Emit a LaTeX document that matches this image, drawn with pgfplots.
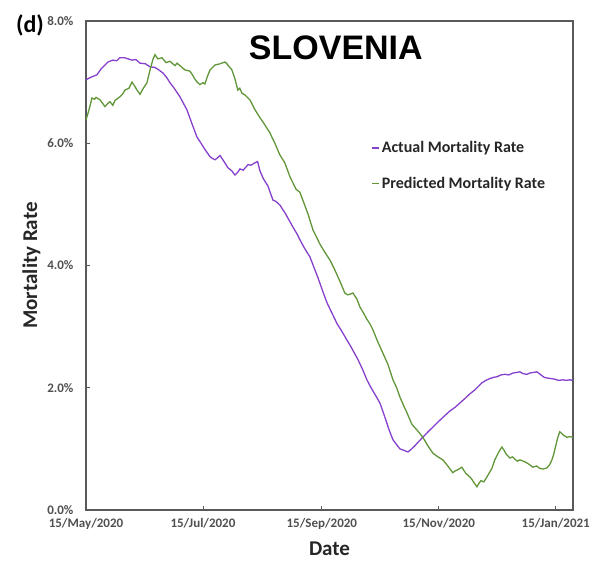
\documentclass[border=0pt]{standalone}
\usepackage{fontspec}
\setmainfont{Carlito}
\newfontfamily\arialfont{Liberation Sans}
\usepackage{pgfplots}
\pgfplotsset{compat=1.18}
\definecolor{actual}{RGB}{134,64,204}
\definecolor{predicted}{RGB}{96,150,56}
\definecolor{axisgrey}{RGB}{89,89,89}
\definecolor{labelgrey}{RGB}{80,80,80}
\definecolor{textdark}{RGB}{38,38,38}

\begin{document}
\begin{tikzpicture}
\begin{axis}[
    width=487pt, height=489pt, scale only axis,
    xmin=0, xmax=254, ymin=0, ymax=8,
    xtick={0,61,123,184,245},
    xticklabels={15/May/2020,15/Jul/2020,15/Sep/2020,15/Nov/2020,15/Jan/2021},
    ytick={0,2,4,6,8},
    yticklabels={0.0\%,2.0\%,4.0\%,6.0\%,8.0\%},
    axis line style={draw=axisgrey, line width=1.4pt},
    tick align=inside, xtick pos=left, ytick pos=left,
    major tick length=4pt,
    tick style={draw=axisgrey, line width=0.8pt},
    ticklabel style={font=\fontsize{13}{15}\selectfont\bfseries, text=labelgrey},
    yticklabel style={xshift=-9pt},
    xticklabel style={yshift=-5pt},
    xlabel={Date}, ylabel={Mortality Rate},
    label style={font=\fontsize{21}{24}\selectfont\bfseries, text=textdark},
    xlabel style={yshift=-5pt},
    legend style={draw=none, fill=none, at={(rel axis cs:0.58,0.762)}, anchor=north west,
        font=\fontsize{16}{18}\selectfont\bfseries, text=textdark, row sep=19pt},
    legend cell align=left,
    legend image code/.code={\draw[#1, line width=1.2pt] (0pt,0pt) -- (7pt,0pt);},
]
\coordinate (sw) at (rel axis cs:0,0);
\addplot[actual, line width=1.3pt] coordinates {
(0,7.04) (2.6,7.08) (5.7,7.12) (8,7.22) (11.5,7.33) (14,7.36) (16,7.35) (17.7,7.40)
(20,7.40) (22,7.38) (24,7.36) (26,7.37) (28.2,7.31) (31,7.30) (33.4,7.25) (36,7.24)
(38,7.20) (40.1,7.15) (42,7.08) (43.8,6.99) (46,6.90) (49,6.76) (52.6,6.55) (55.5,6.30)
(57.9,6.10) (60,6.00) (62,5.90) (64.7,5.78) (66,5.75) (67.3,5.73) (68.5,5.76) (69.9,5.80)
(72,5.70) (74,5.60) (76,5.55) (77.7,5.48) (79,5.52) (80.3,5.58) (82,5.56) (84.5,5.65)
(86,5.64) (88.1,5.68) (89.5,5.70) (90.7,5.55) (92.5,5.42) (94.9,5.30) (97.5,5.07)
(99,5.05) (101.1,4.99) (104,4.85) (107.9,4.63) (110,4.52) (111.6,4.42) (114,4.28)
(116.8,4.14) (119,3.96) (121,3.80) (123,3.62) (125.7,3.39) (128,3.24) (130.9,3.05)
(133.5,2.92) (136.1,2.78) (138,2.68) (140.3,2.55) (142,2.45) (144.4,2.29) (146.5,2.13)
(148,2.04) (149.6,1.95) (151.5,1.85) (153.3,1.75) (155,1.60) (156.4,1.47) (158.2,1.30)
(160.1,1.15) (162,1.07) (163.7,1.00) (165.5,0.98) (167.9,0.95) (169.5,0.99) (171.5,1.05)
(173.5,1.12) (175.7,1.19) (177.5,1.25) (179.4,1.31) (182,1.39) (184.6,1.47) (187,1.54)
(189.8,1.62) (192.5,1.68) (195,1.75) (197.5,1.82) (200.2,1.90) (203,1.97) (206.5,2.08)
(208.5,2.12) (210.6,2.15) (212.5,2.17) (214.3,2.18) (216.5,2.21) (218.5,2.22)
(220.5,2.21) (222.6,2.24) (224.5,2.25) (226.3,2.26) (228,2.23) (229.9,2.22) (231.5,2.24)
(233.1,2.25) (235.1,2.26) (236.5,2.23) (237.7,2.20) (239,2.17) (240.4,2.16) (242.5,2.15)
(244.5,2.14) (246.5,2.12) (248.7,2.13) (250.5,2.12) (252.3,2.13) (253.9,2.12)
};
\addlegendentry{Actual Mortality Rate}
\addplot[predicted, line width=1.3pt] coordinates {
(0,6.38) (1.6,6.55) (3.1,6.74) (4.5,6.72) (5.2,6.75) (7.3,6.71) (9.9,6.60) (11,6.64)
(12.5,6.68) (14,6.62) (15.1,6.70) (17.7,6.76) (19,6.80) (20.3,6.87) (22.4,6.90)
(24,7.00) (25.3,6.94) (26.6,6.87) (28.2,6.80) (29.5,6.88) (31.8,6.99) (33.4,7.20)
(35,7.38) (36,7.45) (37.5,7.38) (39.6,7.40) (41.7,7.32) (43.8,7.34) (46.4,7.27)
(47.5,7.31) (49,7.27) (51.6,7.20) (54.2,7.18) (55.5,7.12) (56.8,7.05) (58,7.00)
(59.4,6.96) (61,6.99) (62,6.97) (63.4,7.10) (64.7,7.20) (67.3,7.28) (69.9,7.30)
(72.5,7.33) (73.5,7.30) (74.5,7.26) (76.1,7.20) (77.7,7.05) (79.2,6.87) (80.2,6.90)
(81.3,6.82) (82.9,6.79) (85.5,6.71) (88.1,6.55) (90.7,6.42) (93.3,6.30) (95.9,6.17)
(98.5,6.00) (101.1,5.81) (103.7,5.68) (106.4,5.45) (109.5,5.25) (111.5,5.20)
(113.1,5.07) (115.7,4.85) (118.4,4.58) (120,4.48) (122,4.35) (124.5,4.22) (127.2,4.09)
(129,3.98) (130.9,3.85) (133,3.70) (135,3.55) (136.5,3.52) (137.6,3.53) (139.2,3.55)
(141.3,3.45) (142.9,3.32) (144.8,3.22) (146.5,3.12) (148,3.05) (149.6,2.95) (152.2,2.75)
(154.8,2.57) (157.5,2.38) (160.1,2.13) (162,2.00) (163.7,1.85) (165.5,1.72) (167.4,1.59)
(170,1.40) (172.6,1.31) (175.7,1.19) (178.3,1.05) (180.9,0.93) (183.5,0.87) (186.1,0.82)
(188.7,0.72) (191.3,0.61) (192.5,0.64) (194,0.66) (196,0.70) (198.1,0.60) (200.2,0.54)
(201.3,0.50) (202.3,0.45) (203.9,0.38) (205,0.44) (206,0.48) (207.5,0.46) (209.1,0.54)
(211.7,0.68) (213.2,0.82) (215.3,0.95) (216.9,1.03) (218,0.98) (219,0.92) (221.1,0.85)
(222.5,0.87) (223.7,0.83) (225,0.80) (226.3,0.82) (228,0.80) (229.4,0.78) (231,0.75)
(233.1,0.70) (235,0.72) (236.7,0.68) (238.5,0.67) (240.4,0.69) (241.8,0.74) (243,0.82)
(244,0.92) (245,1.05) (246,1.18) (247.1,1.28) (248.2,1.25) (249.2,1.22) (250.8,1.19)
(252.3,1.20) (253.9,1.19)
};
\addlegendentry{Predicted Mortality Rate}
\draw[axisgrey, line width=1pt] (rel axis cs:0,1) -- (rel axis cs:1,1) -- (rel axis cs:1,0);
\node[font=\arialfont\fontsize{34}{36}\selectfont\bfseries, text=black] at (rel axis cs:0.513,0.945) {SLOVENIA};
\end{axis}
\node[font=\fontsize{24}{26}\selectfont\bfseries, text=black, anchor=center] at ([shift={(-56pt,485pt)}]sw) {(d)};
\pgfresetboundingbox
\path[use as bounding box] ([shift={(-86pt,-52pt)}]sw) rectangle ([shift={(508pt,510pt)}]sw);
\end{tikzpicture}
\end{document}
